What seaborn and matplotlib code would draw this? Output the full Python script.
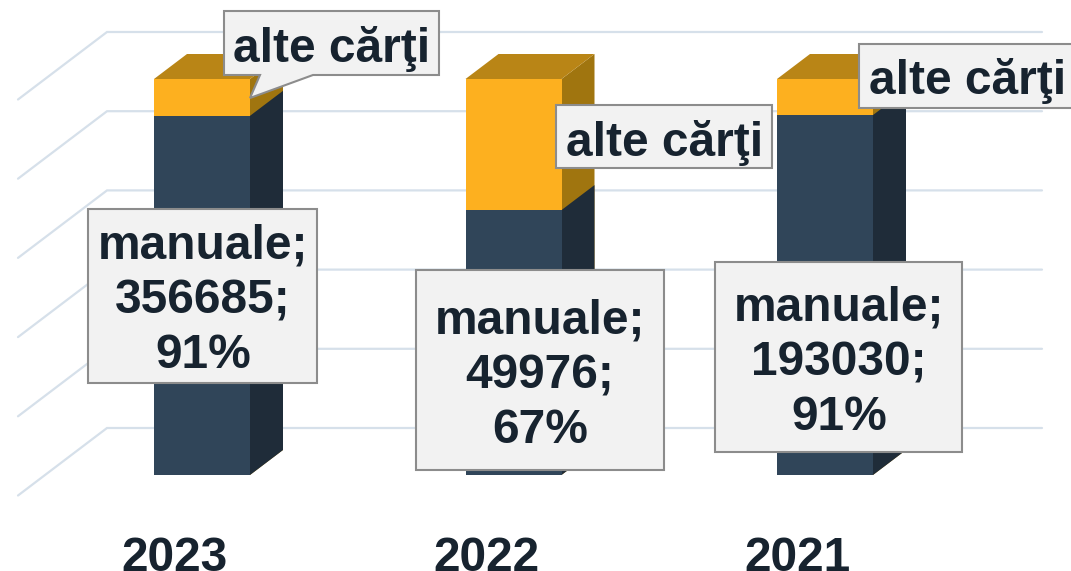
import matplotlib
matplotlib.use("Agg")
import matplotlib.pyplot as plt
import matplotlib.transforms as mtrans
from matplotlib.patches import Polygon, Rectangle
import pandas as pd
import seaborn as sns

# ---- data ----
years = ["2023", "2022", "2021"]
manuale_counts = [356685, 49976, 193030]
manuale_labels = [91, 67, 91]
manuale_share = [90.7, 66.9, 90.9]
alte_share = [9.3, 33.1, 9.1]
grid_values = [0, 20, 40, 60, 80, 100]
series_names = ["manuale", "alte cărţi"]

# ---- style ----
W, H, DPI = 1071, 571, 100
NAVY, NAVY_SIDE = "#304559", "#1f2c39"
ORANGE, ORANGE_SIDE, ORANGE_TOP = "#fdb01f", "#a0750f", "#b98516"
GRID = "#d6e0ea"
BOX_FC, BOX_EC = "#f2f2f2", "#8c8c8c"
INK = "#17232f"
FONT = "Liberation Sans"
FS = 34.5

sns.set_theme(style="white")
plt.rcParams["font.family"] = [FONT, "DejaVu Sans"]

fig = plt.figure(figsize=(W / DPI, H / DPI), dpi=DPI, facecolor="white")
AX_BOTTOM_PX = 530
ax = fig.add_axes([0, (H - AX_BOTTOM_PX) / H, 1, AX_BOTTOM_PX / H])
ax.set_facecolor("none")

df = pd.DataFrame({"an": years, "manuale": manuale_share, "alte": alte_share})
df["total"] = df["manuale"] + df["alte"]

BAR_W = 96 / 311.5
sns.barplot(data=df, x="an", y="total", order=years, color=ORANGE, saturation=1,
            width=BAR_W, ax=ax, zorder=3, linewidth=0, errorbar=None)
orange_bars = list(ax.patches)
sns.barplot(data=df, x="an", y="manuale", order=years, color=NAVY, saturation=1,
            width=BAR_W, ax=ax, zorder=3.2, linewidth=0, errorbar=None)
navy_bars = list(ax.patches)[len(orange_bars):]

# scales: category 0 at x=202 px, spacing 311.5 px; 0 at y=475 px, 100 at y=79 px
ax.set_xlim(-202 / 311.5, (W - 202) / 311.5)
ax.set_ylim(-(AX_BOTTOM_PX - 475) / 3.96, 475 / 3.96)
ax.set_xlabel("")
ax.set_ylabel("")
ax.set_yticks([])
for s in ax.spines.values():
    s.set_visible(False)
ax.tick_params(axis="x", length=0, pad=4, bottom=True)
ax.set_xticks(range(len(years)), years)
shift = mtrans.ScaledTranslation(-27.5 / DPI, 0, fig.dpi_scale_trans)
for lab in ax.get_xticklabels():
    lab.set_transform(lab.get_transform() + shift)
    lab.set_fontsize(FS)
    lab.set_fontweight("bold")
    lab.set_color(INK)
    lab.set_family(FONT)

# pixel transform (origin top-left of the image)
PX = mtrans.Affine2D().scale(1, -1).translate(0, H)

def to_px(x, y):
    dx, dy = ax.transData.transform((x, y))
    return dx, H - dy

# walls: grid drawn from the value scale, with the perspective offset
for v in grid_values:
    y = to_px(0, v)[1]
    back = y - 47
    front = y + 20.5
    ax.add_line(plt.Line2D([18, 107, 1042], [front, back, back], transform=PX,
                           color=GRID, lw=1.6, zorder=1, clip_on=False,
                           solid_joinstyle="miter"))

# 3D faces, from the bars' geometry
DX, DY = 33, 25
def faces(bar, side_col, top_col=None):
    x0 = bar.get_x()
    x1 = x0 + bar.get_width()
    y0 = bar.get_y()
    y1 = y0 + bar.get_height()
    xa, yb = to_px(x0, y0)
    xb, yt = to_px(x1, y1)
    ax.add_patch(Polygon([(xb, yb), (xb + DX, yb - DY), (xb + DX, yt - DY), (xb, yt)],
                         closed=True, transform=PX, fc=side_col, ec="none", zorder=2.9))
    if top_col:
        ax.add_patch(Polygon([(xa, yt), (xb, yt), (xb + DX, yt - DY), (xa + DX, yt - DY)],
                             closed=True, transform=PX, fc=top_col, ec="none", zorder=2.9))

for b in orange_bars:
    faces(b, ORANGE_SIDE, ORANGE_TOP)
for b in navy_bars:
    faces(b, NAVY_SIDE)

# data labels
def box(x0, y0, x1, y1):
    ax.add_patch(Rectangle((x0, y0), x1 - x0, y1 - y0, transform=PX, fc=BOX_FC, ec=BOX_EC,
                           lw=1.5, zorder=5, clip_on=True))

def label(cx, cy, s):
    ax.text(cx, cy, s, transform=PX, ha="center", va="center", fontsize=FS,
            fontweight="bold", color=INK, zorder=6, linespacing=1.28, family=FONT,
            clip_on=False)

manual_boxes = [(88, 209, 317, 383), (416, 270, 664, 470), (715, 262, 962, 452)]
manual_centers = [(203, 301), (540, 376), (839, 363)]
for i, (bx, c) in enumerate(zip(manual_boxes, manual_centers)):
    box(*bx)
    label(c[0], c[1], f"{series_names[0]};\n{manuale_counts[i]};\n{manuale_labels[i]}%")

# callout for 2023
ax.add_patch(Polygon([(224, 11), (439, 11), (439, 75), (313, 75), (250, 98), (260, 75), (224, 75)],
                     closed=True, transform=PX, fc=BOX_FC, ec=BOX_EC, lw=1.5, zorder=5))
label(332, 49, series_names[1])
box(556, 105, 772, 168)
label(665, 143, series_names[1])
box(859, 44, 1078, 108)
label(968, 81, series_names[1])

fig.savefig("out.png", dpi=DPI, facecolor="white")
